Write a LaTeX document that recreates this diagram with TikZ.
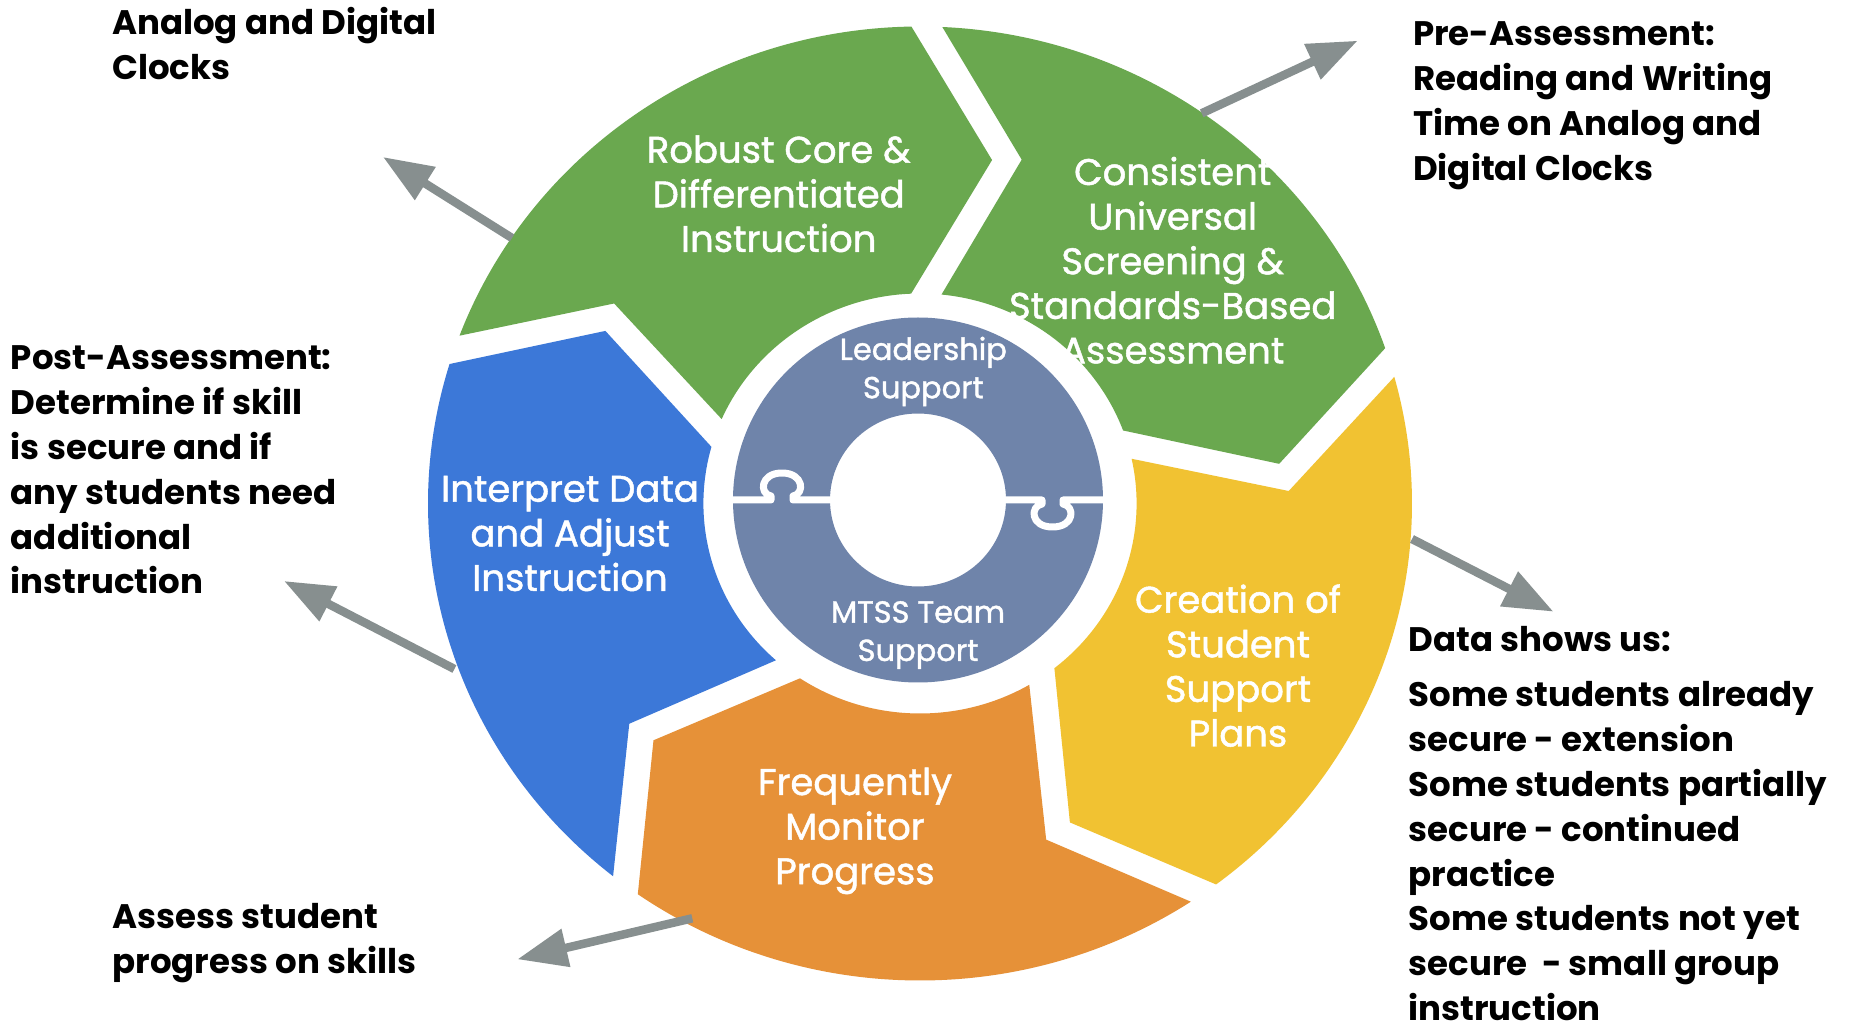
\documentclass[tikz,border=0pt]{standalone}
\usepackage{fontspec}
\setmainfont{Poppins}
\newfontfamily\lblfont{Poppins}[FakeBold=1.3]
\usetikzlibrary{arrows.meta}
\definecolor{segGreen}{HTML}{6AA84F}
\definecolor{segBlue}{HTML}{3C78D8}
\definecolor{segYellow}{HTML}{F1C232}
\definecolor{segOrange}{HTML}{E69138}
\definecolor{ringSlate}{HTML}{6F84AA}
\definecolor{arrowGray}{HTML}{878F8F}
\newcommand{\mylines}[2]{\begin{tabular}[t]{@{}#1@{}}#2\end{tabular}}
% #1 colour, #2 angle of previous boundary, #3 angle of next boundary
\newcommand{\cycseg}[3]{%
  \fill[#1] ({#2-3.6}:477pt) arc[start angle={#2-3.6}, end angle={#3}, radius=477pt]
    -- ({#3-12.5}:350.5pt) -- ({#3+1.35}:210pt)
    arc[start angle={#3+1.35}, end angle={#2-6.7}, radius=210pt]
    -- ({#2-17}:357.7pt) -- cycle;}
\begin{document}
\begin{tikzpicture}[x=1pt,y=1pt,
  whitelbl/.style={text=white, inner sep=0pt, anchor=base, font=\lblfont\fontsize{37}{44.6}\selectfont},
  innerlbl/.style={text=white, inner sep=0pt, anchor=base, font=\lblfont\fontsize{30.5}{38.3}\selectfont},
  blacklbl/.style={text=black, inner sep=0pt, anchor=base west, font=\bfseries\fontsize{34}{44.8}\selectfont},
  outarrow/.style={draw=arrowGray, line width=8.5pt, -{Triangle[length=50pt,width=37pt]}},
  seam/.style={draw=white, line width=7pt, line join=round}]

\fill[white] (0,0) rectangle (1856,1029);
\useasboundingbox (0,0) rectangle (1856,1029);

% cycle segments
\begin{scope}[shift={(920,525.5)}, xscale=1.0314]
  \cycseg{segGreen}{163}{91}
  \cycseg{segGreen}{91}{19}
  \cycseg{segYellow}{19}{-53}
  \cycseg{segOrange}{-53}{-125}
  \cycseg{segBlue}{-125}{-197}
\end{scope}

% inner ring
\fill[ringSlate, even odd rule] (918,529) ellipse[x radius=185, y radius=182.5]
  (918,529) ellipse[x radius=88, y radius=86.5];
\draw[seam] (725,529) -- (771,529) -- (771,533)
  .. controls (759,535) and (760,556) .. (782,556)
  .. controls (804,556) and (805,535) .. (793,533) -- (793,529) -- (835,529);
\draw[seam] (1000,529) -- (1042,529) -- (1042,525)
  .. controls (1030,523) and (1030,502) .. (1052.5,502)
  .. controls (1075,502) and (1075,523) .. (1063,525) -- (1063,529) -- (1110,529);

% segment labels
\node[whitelbl] (robust) at (778.7,866.3) {\mylines{c}{Robust Core \&\\Differentiated\\Instruction}};
\node[whitelbl] (consistent) at (1172.7,844) {\mylines{c}{Consistent\\Universal\\Screening \&\\Standards-Based\\Assessment}};
\node[whitelbl] (creation) at (1238,416.3) {\mylines{c}{Creation of\\Student\\Support\\Plans}};
\node[whitelbl] (frequently) at (855,234) {\mylines{c}{Frequently\\Monitor\\Progress}};
\node[whitelbl] (interpret) at (570,527.3) {\mylines{c}{Interpret Data\\and Adjust\\Instruction}};
\node[innerlbl] (leadership) at (923.3,669) {\mylines{c}{Leadership\\Support}};
\node[innerlbl] (mtss) at (918,406.3) {\mylines{c}{MTSS Team\\Support}};

% outside texts
\node[blacklbl] (analog) at (112,994) {\mylines{l}{Analog and Digital\\Clocks}};
\node[blacklbl] (pre) at (1413,983) {\mylines{l}{Pre-Assessment:\\Reading and Writing\\Time on Analog and\\Digital Clocks}};
\node[blacklbl] (post) at (10.7,659) {\mylines{l}{Post-Assessment:\\Determine if skill\\is secure and if\\any students need\\additional\\instruction}};
\node[blacklbl] (assess) at (112.4,100.7) {\mylines{l}{Assess student\\progress on skills}};
\node[blacklbl] (datashows) at (1408.5,377.3) {Data shows us:};
\node[blacklbl] (some) at (1408.5,322) {\mylines{l}{Some students already\\secure - extension\\Some students partially\\secure - continued\\practice\\Some students not yet\\secure~ - small group\\instruction}};

% arrows
\coordinate (a1s) at (512,791);    \coordinate (a1t) at (383,872);
\coordinate (a2s) at (1201.7,915.7); \coordinate (a2t) at (1357.7,988.3);
\coordinate (a3s) at (1412,490);   \coordinate (a3t) at (1553.5,417.3);
\coordinate (a4s) at (692.3,110.7); \coordinate (a4t) at (517.3,69.7);
\coordinate (a5s) at (454.4,360);  \coordinate (a5t) at (284,448);
\draw[outarrow] (a1s) -- (a1t);
\draw[outarrow] (a2s) -- (a2t);
\draw[outarrow] (a3s) -- (a3t);
\draw[outarrow] (a4s) -- (a4t);
\draw[outarrow] (a5s) -- (a5t);
\end{tikzpicture}
\end{document}
